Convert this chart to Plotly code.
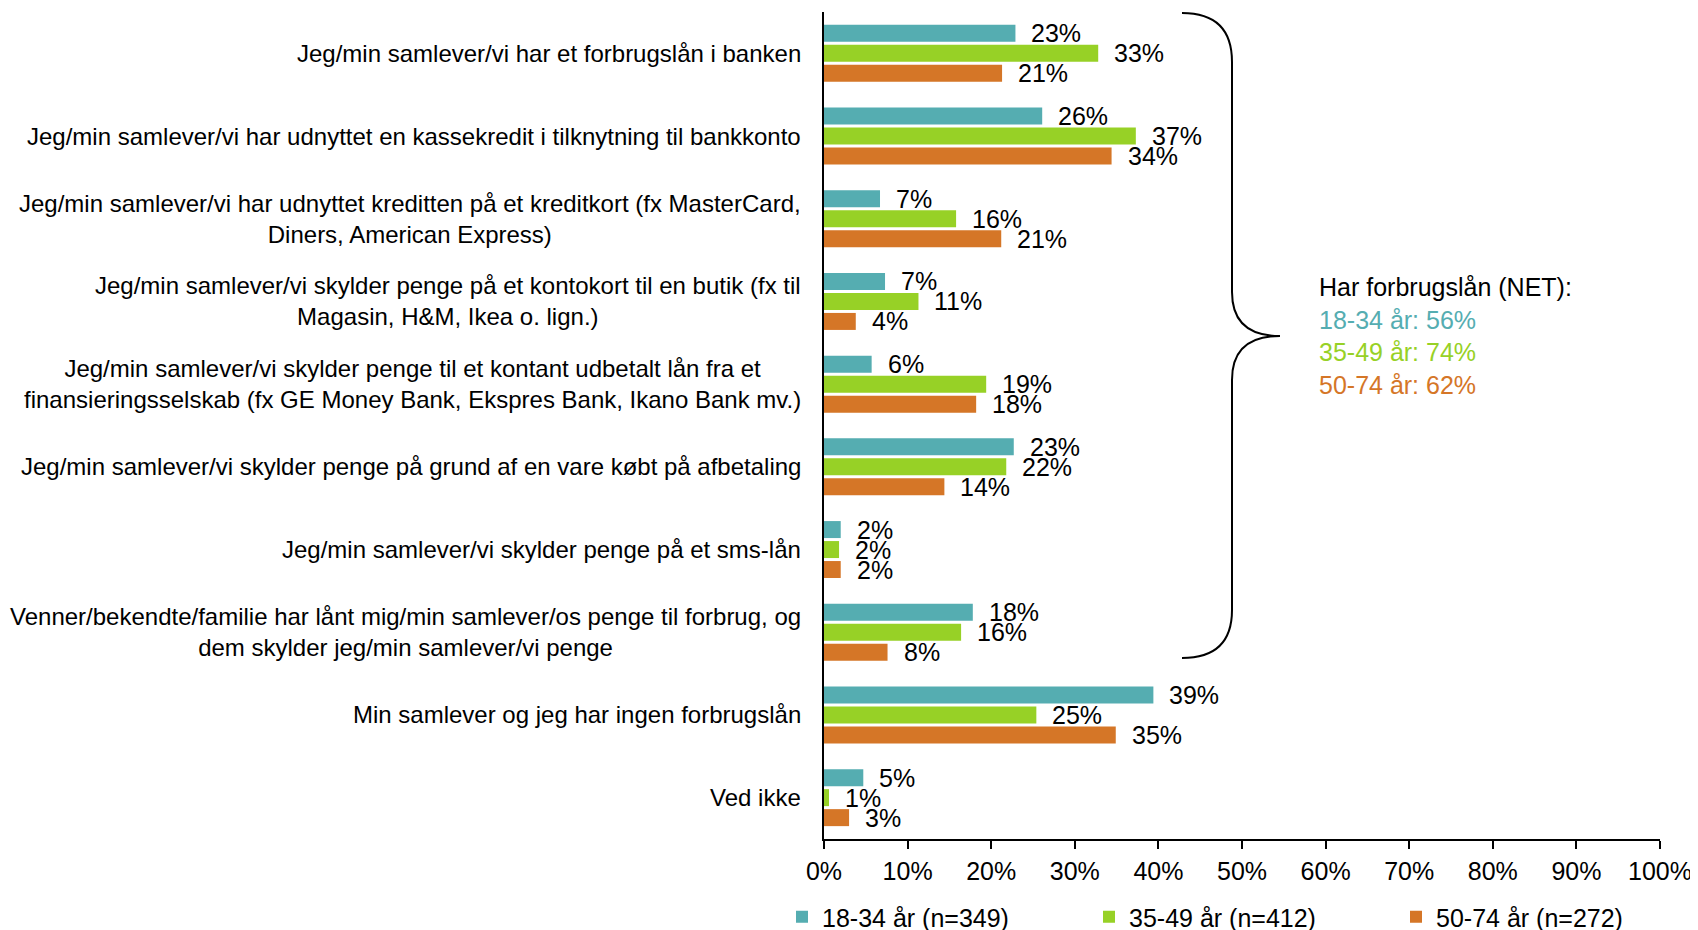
import plotly.graph_objects as go

# Survey categories (top to bottom)
categories = [
    "Jeg/min samlever/vi har et forbrugslån i banken",
    "Jeg/min samlever/vi har udnyttet en kassekredit i tilknytning til bankkonto",
    "Jeg/min samlever/vi har udnyttet kreditten på et kreditkort (fx MasterCard,<br>Diners, American Express)",
    "Jeg/min samlever/vi skylder penge på et kontokort til en butik (fx til<br>Magasin, H&M, Ikea o. lign.)",
    "Jeg/min samlever/vi skylder penge til et kontant udbetalt lån fra et<br>finansieringsselskab (fx GE Money Bank, Ekspres Bank, Ikano Bank mv.)",
    "Jeg/min samlever/vi skylder penge på grund af en vare købt på afbetaling",
    "Jeg/min samlever/vi skylder penge på et sms-lån",
    "Venner/bekendte/familie har lånt mig/min samlever/os penge til forbrug, og<br>dem skylder jeg/min samlever/vi penge",
    "Min samlever og jeg har ingen forbrugslån",
    "Ved ikke",
]

series_names = ["18-34 år (n=349)", "35-49 år (n=412)", "50-74 år (n=272)"]
age_18_34 = [22.9, 26.1, 6.7, 7.3, 5.7, 22.7, 2.0, 17.8, 39.4, 4.7]
age_35_49 = [32.8, 37.3, 15.8, 11.3, 19.4, 21.8, 1.8, 16.4, 25.4, 0.6]
age_50_74 = [21.3, 34.4, 21.2, 3.8, 18.2, 14.4, 2.0, 7.6, 34.9, 3.0]
colors = ["#55ADB1", "#97D126", "#D57627"]

net_title = "Har forbrugslån (NET):"
net_labels = ["18-34 år: 56%", "35-49 år: 74%", "50-74 år: 62%"]

x_ticks = list(range(0, 101, 10))

FONT = "Liberation Sans, Arial, sans-serif"
OFF = 8  # page body margin
W, H = 1690, 922
L, R, T, B = 816, 38, 4, 91
BARGAP = 0.275
pw, ph = W - L - R, H - T - B


def paper_x(wx):
    return (wx - OFF - L) / pw


def paper_y(wy):
    return (H - B - (wy - OFF)) / ph


def pt(wx, wy):
    return f"{paper_x(wx):.5f},{paper_y(wy):.5f}"


pos = list(range(len(categories)))
fig = go.Figure()

for name, vals, col in zip(series_names, [age_18_34, age_35_49, age_50_74], colors):
    fig.add_trace(go.Bar(
        y=pos, x=vals, name=name, orientation="h",
        marker=dict(color=col, line=dict(width=0)),
        hoverinfo="skip",
    ))

# data labels, offset so they sit past the bar end
step = (1 - BARGAP) / 3
for k, vals in enumerate([age_18_34, age_35_49, age_50_74]):
    for i, v in enumerate(vals):
        fig.add_annotation(
            x=v, y=i + (k - 1) * step, xref="x", yref="y",
            text=f"{v:.0f}%", showarrow=False,
            xanchor="left", yanchor="middle", xshift=14,
            font=dict(size=25, color="black", family=FONT),
        )

# category labels (centered multi-line like the original)
for i, c in enumerate(categories):
    fig.add_annotation(
        x=0, y=i, xref="paper", yref="y", text=c, showarrow=False,
        xanchor="right", yanchor="middle", align="center", xshift=-21,
        font=dict(size=24, color="black", family=FONT),
    )

# curly brace around the loan categories
brace = (
    f"M{pt(1182, 13)} Q{pt(1232, 13)} {pt(1232, 62)} L{pt(1232, 292)} "
    f"Q{pt(1232, 336)} {pt(1280, 336)} Q{pt(1232, 336)} {pt(1232, 380)} "
    f"L{pt(1232, 610)} Q{pt(1232, 658)} {pt(1182, 658)}"
)
fig.add_shape(type="path", path=brace, xref="paper", yref="paper",
              line=dict(color="black", width=2))

net_text = net_title + "".join(
    f"<br><span style='color:{c}'>{t}</span>" for t, c in zip(net_labels, colors)
)
fig.add_annotation(
    x=paper_x(1317), y=paper_y(336), xref="paper", yref="paper",
    text=net_text, showarrow=False, xanchor="left", yanchor="middle", align="left",
    font=dict(size=25, color="black", family=FONT),
)

fig.update_layout(
    width=W, height=H,
    margin=dict(l=L, r=R, t=T, b=B, autoexpand=False),
    paper_bgcolor="white", plot_bgcolor="white",
    barmode="group", bargap=BARGAP, bargroupgap=0.15,
    font=dict(family=FONT, size=25, color="black"),
    showlegend=True,
    legend=dict(
        orientation="h", x=paper_x(822 - 40), y=paper_y(917),
        xanchor="left", yanchor="middle",
        entrywidth=262, itemwidth=30, font=dict(size=25), traceorder="normal",
    ),
    xaxis=dict(
        range=[0, 100], tickvals=x_ticks, ticktext=[f"{t}%" for t in x_ticks],
        showgrid=False, zeroline=False, showline=True, linecolor="black", linewidth=2,
        ticks="outside", ticklen=8, tickwidth=2, tickcolor="black",
        ticklabelstandoff=1, tickfont=dict(size=25),
    ),
    yaxis=dict(
        range=[len(categories) - 0.5, -0.5], showticklabels=False, ticks="",
        showgrid=False, zeroline=False, showline=True, linecolor="black", linewidth=2,
    ),
)

fig.write_html("out.html")
